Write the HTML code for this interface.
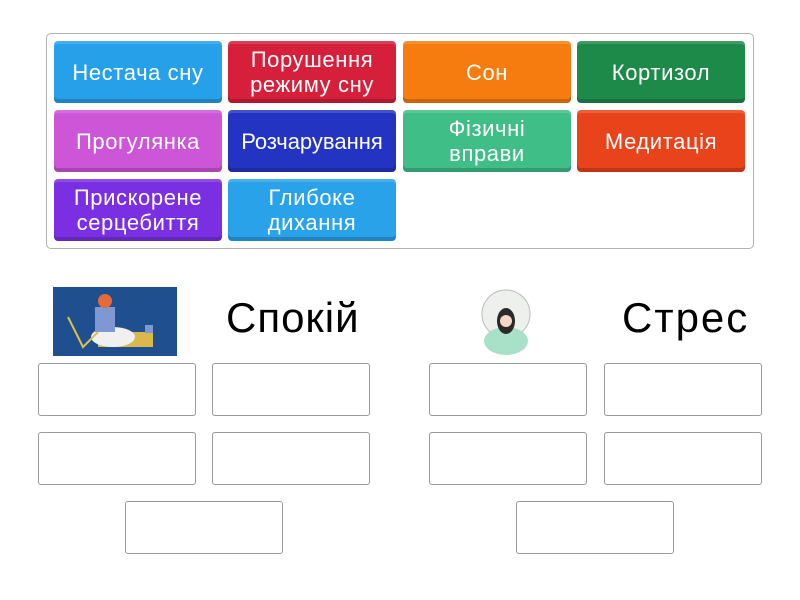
<!DOCTYPE html>
<html><head><meta charset="utf-8"><style>
body{margin:0;width:800px;height:600px;background:#fff;position:relative;font-family:"Liberation Sans","DejaVu Sans",sans-serif;overflow:hidden}
.c{position:absolute;left:46px;top:33px;width:706px;height:214px;border:1px solid #b0b0b0;border-radius:5px}
.t{position:absolute;width:168px;height:62px;border-radius:4px;color:#fff;font-size:22px;letter-spacing:0.6px;line-height:25px;display:flex;align-items:center;justify-content:center;text-align:center;box-shadow:inset 0 -4px 0 rgba(0,0,0,.18),inset 0 3px 0 rgba(255,255,255,.15);white-space:nowrap}
.b{position:absolute;width:156px;height:51px;border:1px solid #999;border-radius:3px;background:#fff}
.h{position:absolute;color:#000}
</style></head><body>
<div class="c"></div>
<div class="t" style="left:54px;top:41px;background:#27a0ea">Нестача сну</div>
<div class="t" style="left:228px;top:41px;background:#d61f3a">Порушення<br>режиму сну</div>
<div class="t" style="left:403px;top:41px;background:#f67c10">Сон</div>
<div class="t" style="left:577px;top:41px;background:#1e8a4a">Кортизол</div>
<div class="t" style="left:54px;top:110px;background:#cc55d8">Прогулянка</div>
<div class="t" style="left:228px;top:110px;background:#2333c2;letter-spacing:0">Розчарування</div>
<div class="t" style="left:403px;top:110px;background:#3fbe88">Фізичні<br>вправи</div>
<div class="t" style="left:577px;top:110px;background:#e8431a">Медитація</div>
<div class="t" style="left:54px;top:179px;background:#7a30e2">Прискорене<br>серцебиття</div>
<div class="t" style="left:228px;top:179px;background:#2aa2ea">Глибоке<br>дихання</div>
<svg style="position:absolute;left:53px;top:287px" width="124" height="69"><rect width="124" height="69" fill="#1f4f8e"/><rect x="45" y="45" width="55" height="15" fill="#d9b84c"/><ellipse cx="60" cy="50" rx="22" ry="10" fill="#f0f0f0"/><rect x="42" y="20" width="20" height="25" fill="#7f97d3"/><circle cx="52" cy="14" r="7" fill="#e56a3a"/><path d="M15 30 L30 60 L45 45" stroke="#d9c04c" stroke-width="2" fill="none"/><rect x="92" y="38" width="8" height="8" fill="#7f97d3"/></svg>
<div class="h" style="left:226px;top:294px;font-size:42px;letter-spacing:1px">Спокій</div>
<svg style="position:absolute;left:470px;top:286px" width="72" height="70"><circle cx="36" cy="28" r="24" fill="#eef0ee" stroke="#bbb"/><ellipse cx="36" cy="55" rx="22" ry="14" fill="#a9e0c8"/><ellipse cx="36" cy="35" rx="9" ry="13" fill="#2a2a2a"/><circle cx="36" cy="35" r="6" fill="#f3d7c7"/></svg>
<div class="h" style="left:622px;top:294px;font-size:42px;letter-spacing:2px">Стрес</div>
<div class="b" style="left:38px;top:363px"></div>
<div class="b" style="left:212px;top:363px"></div>
<div class="b" style="left:429px;top:363px"></div>
<div class="b" style="left:604px;top:363px"></div>
<div class="b" style="left:38px;top:432px"></div>
<div class="b" style="left:212px;top:432px"></div>
<div class="b" style="left:429px;top:432px"></div>
<div class="b" style="left:604px;top:432px"></div>
<div class="b" style="left:125px;top:501px"></div>
<div class="b" style="left:516px;top:501px"></div>
</body></html>
